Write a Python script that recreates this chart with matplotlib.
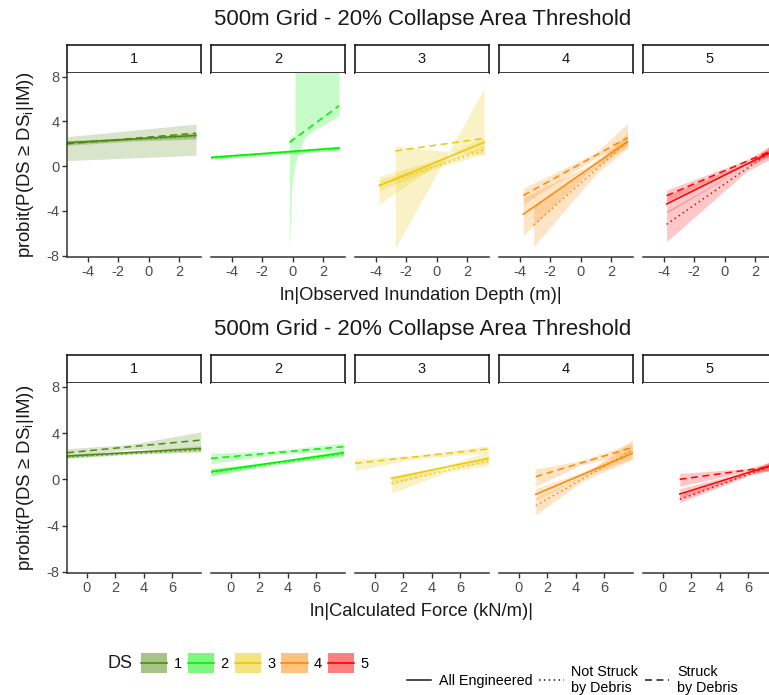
import matplotlib
matplotlib.use("Agg")
import matplotlib.pyplot as plt
from matplotlib.lines import Line2D
from matplotlib.patches import Patch, Rectangle

plt.rcParams["font.family"] = ["Liberation Sans", "DejaVu Sans"]
plt.rcParams["mathtext.fontset"] = "custom"
plt.rcParams["mathtext.rm"] = "Liberation Sans"
plt.rcParams["mathtext.it"] = "Liberation Sans:italic"
plt.rcParams["axes.unicode_minus"] = False

# -----------------------------------
# Data
# -----------------------------------

ds_levels = ["1", "2", "3", "4", "5"]
ds_colors = ["#4F8A10", "#00F000", "#EBC800", "#FF8800", "#FF0000"]

title_text = "500m Grid - 20% Collapse Area Threshold"

# row 1 : ln observed inundation depth
depth_ticks = [-4, -2, 0, 2]

depth_all_x = [[-5.35, -1.0, 3.10], [-5.37, -1.0, 3.04], [-3.78, 0.0, 3.11],
               [-3.78, 0.5, 3.07], [-3.82, 1.4, 3.10]]
depth_all_y = [[2.10, 2.75], [0.79, 1.63], [-1.74, 2.13], [-4.30, 2.19], [-3.38, 1.30]]
depth_all_lo = [[1.95, 2.30, 2.50], [0.65, 1.10, 1.45], [-3.40, 0.15, 1.60],
                [-6.20, -0.55, 1.75], [-4.20, 0.00, 0.90]]
depth_all_hi = [[2.30, 2.55, 3.00], [0.95, 1.35, 1.80], [-0.90, 0.60, 2.60],
                [-2.80, 0.05, 2.70], [-2.60, 0.30, 1.70]]

depth_not_x = [[-5.35, -1.0, 3.10], [-5.37, -1.0, 3.04], [-3.78, 0.0, 3.11],
               [-3.09, 1.0, 3.07], [-3.82, 1.4, 3.10]]
depth_not_y = [[2.05, 2.70], [0.75, 1.60], [-1.70, 1.45], [-5.25, 2.20], [-5.20, 1.35]]
depth_not_lo = [[1.85, 2.25, 2.40], [0.60, 1.05, 1.40], [-2.20, -0.15, 1.10],
                [-7.20, -0.70, 1.60], [-6.74, -0.50, 0.70]]
depth_not_hi = [[2.25, 2.50, 2.95], [0.90, 1.30, 1.75], [-1.20, 0.25, 1.80],
                [-3.60, 0.10, 3.00], [-4.00, 0.00, 2.00]]

depth_str_x = [[-5.35, 3.10],
               [-0.22, -0.07, 0.14, 0.15, 0.37, 0.81, 1.25, 3.04],
               [-2.72, 3.11],
               [-3.78, 1.0, 3.07],
               [-3.82, 1.4, 3.10]]
depth_str_y = [[2.00, 2.95], [2.13, 5.40], [1.36, 2.49], [-2.63, 2.55], [-2.63, 1.40]]
depth_str_lo = [[0.50, 0.97],
                [-7.50, -1.80, 0.00, 0.10, 1.15, 2.64, 3.08, 4.49],
                [-7.34, 6.96],
                [-3.40, 0.75, 2.00],
                [-3.20, 0.25, 1.00]]
depth_str_hi = [[2.64, 3.77],
                [2.60, 2.70, 2.80, 9.00, 9.00, 9.00, 9.00, 9.00],
                [1.80, 1.00],
                [-1.98, 1.20, 3.83],
                [-2.13, 0.55, 1.90]]

# row 2 : ln calculated force
force_ticks = [0, 2, 4, 6]

force_all_x = [[-1.38, 3.0, 8.0], [-1.40, 3.0, 7.9], [1.16, 5.0, 7.97],
               [1.18, 4.5, 7.97], [1.18, 6.0, 7.97]]
force_all_y = [[2.01, 2.67], [0.66, 2.30], [0.08, 1.81], [-1.30, 2.24], [-1.27, 1.34]]
force_all_lo = [[1.85, 2.22, 2.45], [0.35, 1.33, 2.05], [-0.50, 0.95, 1.40],
                [-1.80, 0.25, 1.80], [-1.70, 0.45, 0.90]]
force_all_hi = [[2.20, 2.42, 2.90], [0.95, 1.55, 2.55], [0.30, 1.20, 2.40],
                [-0.80, 0.65, 2.70], [-0.80, 0.70, 1.80]]

force_not_x = force_all_x
force_not_y = [[1.95, 2.55], [0.60, 2.20], [-0.35, 1.60], [-2.28, 2.50], [-1.73, 1.30]]
force_not_lo = [[1.80, 2.15, 2.35], [0.30, 1.25, 1.95], [-1.20, 0.60, 1.20],
                [-3.08, -0.15, 1.70], [-2.00, 0.30, 0.90]]
force_not_hi = [[2.10, 2.30, 2.75], [0.90, 1.45, 2.45], [0.20, 0.90, 2.00],
                [-1.60, 0.30, 3.40], [-1.30, 0.55, 1.70]]

force_str_x = [[-1.38, 3.0, 8.0], [-1.40, 3.0, 7.9], [-1.40, 3.0, 7.97],
               [1.18, 4.5, 7.97], [1.18, 6.0, 7.97]]
force_str_y = [[2.30, 3.39], [1.81, 2.82], [1.38, 2.62], [0.23, 2.76], [0.00, 1.15]]
force_str_lo = [[1.95, 2.60, 2.70], [1.35, 2.15, 2.45], [0.75, 1.80, 2.30],
                [-0.60, 1.30, 2.30], [-0.60, 0.70, 0.70]]
force_str_hi = [[2.65, 3.00, 4.10], [2.25, 2.45, 3.15], [1.75, 2.10, 2.90],
                [0.90, 1.65, 3.15], [0.50, 0.95, 1.60]]

# -----------------------------------
# Layout (pixels of a 769 x 695 canvas)
# -----------------------------------

W, H = 769, 695
fig = plt.figure(figsize=(W / 100, H / 100), dpi=100)


def box(x0, y0, w, h):
    return [x0 / W, 1 - (y0 + h) / H, w / W, h / H]


panel_left = [67, 211, 355, 499, 643]
panel_w = 134

styles = {"all": "-", "not": (0, (1, 2.2)), "str": (0, (4.5, 3))}


def draw_row(top, height, xlim, ylim, ticks, series, xlabel):
    axes = []
    for i, ds in enumerate(ds_levels):
        # strip
        sax = fig.add_axes(box(panel_left[i], top - 28, panel_w, 28))
        sax.set_xticks([])
        sax.set_yticks([])
        for sp in sax.spines.values():
            sp.set_linewidth(1.2)
            sp.set_color("#1A1A1A")
        sax.text(0.5, 0.5, ds, ha="center", va="center",
                 fontsize=10.5, color="#1A1A1A")

        ax = fig.add_axes(box(panel_left[i], top, panel_w, height))
        col = ds_colors[i]
        for key, xs, ys, lo, hi in series:
            ax.fill_between(xs[i], lo[i], hi[i], color=col, alpha=0.22,
                            linewidth=0)
        for key, xs, ys, lo, hi in series:
            ax.plot([xs[i][0], xs[i][-1]], ys[i], color=col, lw=1.1,
                    linestyle=styles[key])

        ax.set_xlim(*xlim)
        ax.set_ylim(*ylim)
        ax.set_xticks(ticks)
        ax.set_yticks([-8, -4, 0, 4, 8])
        ax.spines["top"].set_visible(False)
        ax.spines["right"].set_visible(False)
        ax.spines["bottom"].set_color("#333333")
        ax.spines["left"].set_color("#333333")
        ax.spines["bottom"].set_linewidth(1.1)
        ax.spines["left"].set_linewidth(1.1)
        ax.tick_params(colors="#333333", labelcolor="#4D4D4D",
                       labelsize=10.5, length=3.5, width=1.0, pad=2)
        if i > 0:
            ax.spines["left"].set_visible(False)
            ax.tick_params(axis="y", left=False, labelleft=False)
        axes.append(ax)

    fig.text(423 / W, 1 - (top - 53) / H, title_text, ha="center",
             va="center", fontsize=16, color="#1A1A1A")
    fig.text(421 / W, 1 - (top + height + 38) / H, xlabel, ha="center",
             va="center", fontsize=13.2, color="#1A1A1A")
    fig.text(26 / W, 1 - (top + height / 2) / H,
             "probit(P(DS \u2265 DS$_{\\mathregular{i}}$|IM))",
             rotation=90, ha="center", va="center", fontsize=13.4,
             color="#1A1A1A")
    return axes


depth_series = [
    ("all", depth_all_x, depth_all_y, depth_all_lo, depth_all_hi),
    ("not", depth_not_x, depth_not_y, depth_not_lo, depth_not_hi),
    ("str", depth_str_x, depth_str_y, depth_str_lo, depth_str_hi),
]

force_series = [
    ("all", force_all_x, force_all_y, force_all_lo, force_all_hi),
    ("not", force_not_x, force_not_y, force_not_lo, force_not_hi),
    ("str", force_str_x, force_str_y, force_str_lo, force_str_hi),
]

draw_row(73, 184, (-5.37, 3.43), (-8.12, 8.33), depth_ticks, depth_series,
         "ln|Observed Inundation Depth (m)|")

draw_row(383, 190, (-1.40, 8.02), (-8.09, 8.32), force_ticks, force_series,
         "ln|Calculated Force (kN/m)|")

# -----------------------------------
# Legends
# -----------------------------------


class FillLineKey:
    # ribbon fill with the line drawn across its middle
    def legend_artist(self, legend, orig_handle, fontsize, handlebox):
        x0, y0 = -handlebox.xdescent, -handlebox.ydescent
        w, h = handlebox.width, handlebox.height
        c = orig_handle.get_facecolor()
        rect = Rectangle((x0, y0), w, h, facecolor=c[:3], alpha=0.5,
                         edgecolor="none",
                         transform=handlebox.get_transform())
        line = Line2D([x0, x0 + w], [y0 + h / 2, y0 + h / 2], color=c[:3],
                      lw=1.2, transform=handlebox.get_transform())
        handlebox.add_artist(rect)
        handlebox.add_artist(line)
        return rect


fig.text(120 / W, 1 - 663 / H, "DS", ha="center", va="center",
         fontsize=13, color="#1A1A1A")

ds_handles = [Patch(facecolor=c) for c in ds_colors]
fig.legend(ds_handles, ds_levels, handler_map={Patch: FillLineKey()},
           ncol=5, loc="center left", bbox_to_anchor=(141 / W, 1 - 663 / H),
           frameon=False, fontsize=10.5, handlelength=1.8, handleheight=1.8,
           handletextpad=0.45, columnspacing=0.4, borderpad=0,
           borderaxespad=0)

lt_handles = [Line2D([], [], color="#1A1A1A", lw=1.1, linestyle=styles[k])
              for k in ["all", "not", "str"]]
lt_labels = ["All Engineered", "Not Struck\nby Debris", "Struck\nby Debris"]
fig.legend(lt_handles, lt_labels, ncol=3, loc="center left",
           bbox_to_anchor=(407 / W, 1 - 680 / H), frameon=False,
           fontsize=10.3, handlelength=1.7, handletextpad=0.55,
           columnspacing=0.45, borderpad=0, borderaxespad=0)

fig.savefig("out.png", dpi=100)
